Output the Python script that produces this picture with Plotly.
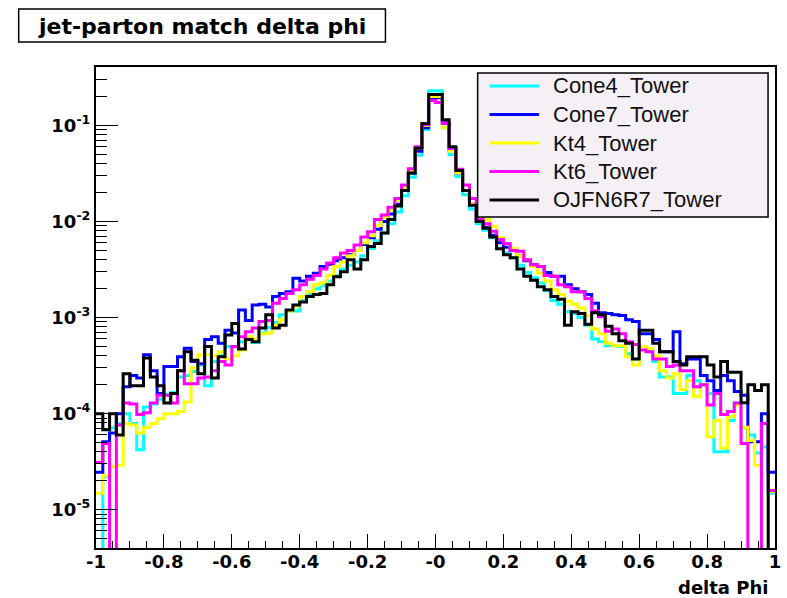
import plotly.graph_objects as go

# ---------------- data ----------------
bin_edges = [round(-1 + 0.02 * i, 2) for i in range(101)]

series_names = ["Cone4_Tower", "Cone7_Tower", "Kt4_Tower", "Kt6_Tower", "OJFN6R7_Tower"]
series_colors = ["#00FFFF", "#0000FF", "#FFFF00", "#FF00FF", "#000000"]

cone4_tower = [
    0, 2.2e-5, 7.1e-5, 7.9e-5, 1.0e-4, 7.9e-5, 4.2e-5, 1.17e-4, 1.26e-4, 1.41e-4,
    1.58e-4, 1.66e-4, 2.4e-4, 2.5e-4, 2.75e-4, 3.2e-4, 1.95e-4, 3.5e-4, 4.0e-4, 5.0e-4,
    5.0e-4, 5.6e-4, 6.0e-4, 5.5e-4, 6.9e-4, 7.9e-4, 8.9e-4, 1.07e-3, 1.17e-3, 1.17e-3,
    1.51e-3, 1.74e-3, 2.0e-3, 2.14e-3, 2.4e-3, 2.75e-3, 3.2e-3, 3.5e-3, 3.8e-3, 4.4e-3,
    5.25e-3, 6.3e-3, 7.6e-3, 9.5e-3, 1.26e-2, 1.86e-2, 2.9e-2, 4.9e-2, 9.1e-2, 0.23,
    0.23, 9.5e-2, 5.0e-2, 2.95e-2, 1.9e-2, 1.35e-2, 9.5e-3, 8.1e-3, 6.8e-3, 5.25e-3,
    4.7e-3, 4.2e-3, 3.5e-3, 2.95e-3, 2.6e-3, 2.3e-3, 1.9e-3, 1.51e-3, 1.38e-3, 1.15e-3,
    1.1e-3, 1.0e-3, 8.3e-4, 6.0e-4, 5.6e-4, 5.1e-4, 5.1e-4, 5.0e-4, 4.2e-4, 3.7e-4,
    5.0e-4, 4.5e-4, 3.5e-4, 2.4e-4, 2.4e-4, 1.62e-4, 1.62e-4, 2.5e-4, 2.2e-4, 2.0e-4,
    1.62e-4, 4.0e-5, 4.0e-5, 8.5e-5, 1.29e-4, 7.1e-5, 6.0e-5, 3.9e-5, 4.5e-5, 1.48e-5,
]

cone7_tower = [
    2.45e-5, 5.1e-5, 6.3e-5, 1.0e-4, 1.9e-4, 2.5e-4, 2.35e-4, 4.1e-4, 2.8e-4, 1.62e-4,
    3.1e-4, 3.1e-4, 3.9e-4, 4.8e-4, 3.5e-4, 3.3e-4, 5.9e-4, 6.3e-4, 5.4e-4, 7.4e-4,
    6.9e-4, 1.2e-3, 9.3e-4, 1.35e-3, 1.38e-3, 1.29e-3, 1.66e-3, 1.78e-3, 1.86e-3, 2.57e-3,
    2.4e-3, 2.7e-3, 2.9e-3, 3.4e-3, 3.6e-3, 3.9e-3, 4.2e-3, 4.5e-3, 5.0e-3, 5.75e-3,
    6.8e-3, 8.3e-3, 1.0e-2, 1.2e-2, 1.51e-2, 2.1e-2, 3.2e-2, 5.4e-2, 9.5e-2, 0.195,
    0.195, 0.107, 5.6e-2, 3.2e-2, 2.1e-2, 1.51e-2, 1.02e-2, 8.7e-3, 7.2e-3, 6.0e-3,
    5.4e-3, 5.0e-3, 4.4e-3, 3.9e-3, 3.55e-3, 3.4e-3, 2.95e-3, 2.7e-3, 2.7e-3, 2.2e-3,
    2.0e-3, 1.86e-3, 1.74e-3, 1.41e-3, 1.12e-3, 1.1e-3, 1.07e-3, 1.05e-3, 9.5e-4, 9.1e-4,
    6.8e-4, 6.8e-4, 5.9e-4, 4.4e-4, 4.4e-4, 7.1e-4, 3.3e-4, 3.7e-4, 3.7e-4, 2.5e-4,
    2.2e-4, 1.74e-4, 2.5e-4, 2.2e-4, 1.7e-4, 1.55e-4, 5.1e-5, 5.1e-5, 1.0e-4, 2.45e-5,
]

kt4_tower = [
    1.48e-5, 2.25e-5, 2.8e-5, 2.9e-5, 7.9e-5, 7.6e-5, 6.3e-5, 7.2e-5, 7.9e-5, 8.9e-5,
    1.0e-4, 1.0e-4, 1.05e-4, 1.32e-4, 3.0e-4, 4.1e-4, 4.1e-4, 4.0e-4, 4.4e-4, 3.7e-4,
    4.0e-4, 4.6e-4, 6.3e-4, 6.0e-4, 6.8e-4, 6.9e-4, 8.3e-4, 9.5e-4, 1.17e-3, 1.32e-3,
    1.66e-3, 1.86e-3, 2.2e-3, 2.3e-3, 2.75e-3, 3.4e-3, 3.8e-3, 4.4e-3, 5.0e-3, 6.0e-3,
    7.1e-3, 9.1e-3, 1.1e-2, 1.32e-2, 1.66e-2, 2.25e-2, 3.4e-2, 5.75e-2, 0.10, 0.20,
    0.20, 9.5e-2, 5.4e-2, 3.2e-2, 2.1e-2, 1.51e-2, 1.1e-2, 1.05e-2, 8.9e-3, 6.8e-3,
    5.9e-3, 5.25e-3, 4.4e-3, 4.0e-3, 3.4e-3, 2.9e-3, 2.4e-3, 1.95e-3, 1.74e-3, 1.48e-3,
    1.38e-3, 1.26e-3, 1.05e-3, 7.6e-4, 6.8e-4, 5.4e-4, 5.1e-4, 5.1e-4, 3.9e-4, 3.2e-4,
    5.0e-4, 4.8e-4, 4.0e-4, 2.8e-4, 2.35e-4, 2.6e-4, 1.78e-4, 2.2e-4, 1.51e-4, 2.0e-4,
    5.75e-5, 8.5e-5, 4.4e-5, 9.3e-5, 1.23e-4, 7.2e-5, 5.25e-5, 2.9e-5, 0, 1.55e-5,
]

kt6_tower = [
    3.1e-5, 4.9e-5, 0, 7.6e-5, 1.29e-4, 1.26e-4, 9.8e-5, 1.02e-4, 1.29e-4, 1.55e-4,
    1.55e-4, 1.29e-4, 2.8e-4, 2.05e-4, 2.05e-4, 2.35e-4, 2.4e-4, 2.8e-4, 3.5e-4, 3.2e-4,
    5.0e-4, 6.3e-4, 7.1e-4, 7.8e-4, 9.1e-4, 9.3e-4, 1.41e-3, 1.58e-3, 1.78e-3, 1.95e-3,
    2.2e-3, 2.5e-3, 2.75e-3, 3.2e-3, 3.7e-3, 4.2e-3, 4.7e-3, 5.0e-3, 5.7e-3, 6.9e-3,
    7.85e-3, 1.05e-2, 1.17e-2, 1.41e-2, 1.74e-2, 2.4e-2, 3.55e-2, 6.0e-2, 0.102, 0.182,
    0.174, 0.105, 5.75e-2, 3.5e-2, 2.4e-2, 1.74e-2, 1.05e-2, 9.5e-3, 7.9e-3, 6.5e-3,
    5.9e-3, 5.0e-3, 4.9e-3, 4.0e-3, 3.55e-3, 3.4e-3, 2.75e-3, 2.7e-3, 2.2e-3, 2.1e-3,
    1.86e-3, 1.86e-3, 1.58e-3, 1.17e-3, 1.02e-3, 7.2e-4, 7.6e-4, 6.8e-4, 5.6e-4, 5.25e-4,
    4.6e-4, 4.4e-4, 3.7e-4, 3.7e-4, 3.1e-4, 3.2e-4, 2.8e-4, 2.8e-4, 1.9e-4, 2.0e-4,
    1.23e-4, 1.62e-4, 9.8e-5, 1.05e-4, 1.29e-4, 4.9e-5, 0, 0, 7.9e-5, 1.58e-5,
]

ojfn6r7_tower = [
    1.0e-4, 6.8e-5, 1.0e-4, 6.0e-5, 2.6e-4, 1.95e-4, 1.95e-4, 3.8e-4, 2.4e-4, 1.95e-4,
    1.29e-4, 1.62e-4, 2.8e-4, 4.4e-4, 3.6e-4, 2.6e-4, 5.0e-4, 2.35e-4, 3.9e-4, 6.6e-4,
    8.7e-4, 4.7e-4, 5.9e-4, 5.6e-4, 7.8e-4, 1.07e-3, 7.8e-4, 8.3e-4, 1.2e-3, 1.35e-3,
    1.45e-3, 1.66e-3, 1.74e-3, 1.78e-3, 2.2e-3, 2.66e-3, 3.0e-3, 4.0e-3, 3.2e-3, 4.0e-3,
    5.5e-3, 5.9e-3, 7.6e-3, 1.05e-2, 1.45e-2, 2.1e-2, 3.2e-2, 5.8e-2, 0.105, 0.21,
    0.21, 0.115, 6.0e-2, 3.4e-2, 2.1e-2, 1.48e-2, 1.0e-2, 8.5e-3, 6.9e-3, 5.2e-3,
    4.5e-3, 4.2e-3, 3.2e-3, 2.7e-3, 2.45e-3, 2.1e-3, 1.95e-3, 1.66e-3, 1.55e-3, 8.3e-4,
    1.15e-3, 1.1e-3, 8.5e-4, 1.12e-3, 1.07e-3, 8.1e-4, 6.8e-4, 5.75e-4, 5.4e-4, 3.7e-4,
    7.4e-4, 7.4e-4, 5.4e-4, 4.4e-4, 4.4e-4, 3.5e-4, 3.2e-4, 3.9e-4, 3.9e-4, 3.9e-4,
    3.2e-4, 2.4e-4, 3.5e-4, 2.7e-4, 2.7e-4, 1.3e-4, 2.0e-4, 1.74e-4, 2.0e-4, 0,
]

series_values = [cone4_tower, cone7_tower, kt4_tower, kt6_tower, ojfn6r7_tower]

x_tick_vals = [-1, -0.8, -0.6, -0.4, -0.2, 0, 0.2, 0.4, 0.6, 0.8, 1]
x_tick_text = ["-1", "-0.8", "-0.6", "-0.4", "-0.2", "-0", "0.2", "0.4", "0.6", "0.8", "1"]
y_tick_vals = [1e-5, 1e-4, 1e-3, 1e-2, 1e-1]
y_tick_text = ["10<sup>-5</sup>", "10<sup>-4</sup>", "10<sup>-3</sup>", "10<sup>-2</sup>", "10<sup>-1</sup>"]

title_text = "jet-parton match delta phi"
x_title = "delta Phi"

# ---------------- layout geometry (pixels) ----------------
W, H = 787, 598
L, R, T, B = 96, 6, 67, 50
PW, PH = W - L - R, H - T - B
FLOOR = 1e-9  # empty bins are drawn down to the frame bottom


def px(x):
    return (x - L) / PW


def py(y):
    return (H - B - y) / PH


fig = go.Figure()
for name, vals, color in zip(series_names, series_values, series_colors):
    yv = [v if v > 0 else FLOOR for v in vals]
    yv = yv + [yv[-1]]
    fig.add_trace(go.Scatter(
        x=bin_edges, y=yv, mode="lines", name=name,
        line=dict(color=color, width=3, shape="hv"),
        hoverinfo="skip", showlegend=False,
    ))

x_minor = [round(-1 + 0.05 * i, 2) for i in range(41)]
x_minor = [v for v in x_minor if v not in x_tick_vals]
y_minor = [m * 10 ** e for e in range(-6, 0) for m in range(2, 10)]

bold18 = dict(family="DejaVu Sans", size=18, color="black", weight="bold")

fig.update_layout(
    width=W, height=H,
    margin=dict(l=L, r=R, t=T, b=B, pad=0),
    paper_bgcolor="white", plot_bgcolor="white",
    showlegend=False,
    xaxis=dict(
        range=[-1, 1], showgrid=False, zeroline=False,
        showline=True, linecolor="black", linewidth=2, mirror=True,
        ticks="inside", ticklen=14, tickwidth=1, tickcolor="black",
        tickvals=x_tick_vals, ticktext=x_tick_text, tickfont=bold18,
        ticklabelstandoff=-4,
        minor=dict(tickvals=x_minor, ticks="inside", ticklen=7, tickwidth=1, tickcolor="black", showgrid=False),
    ),
    yaxis=dict(
        type="log", range=[-5.399, -0.391], showgrid=False, zeroline=False,
        showline=True, linecolor="black", linewidth=2, mirror=True,
        ticks="inside", ticklen=22, tickwidth=1, tickcolor="black",
        tickvals=y_tick_vals, ticktext=y_tick_text,
        tickfont=dict(family="DejaVu Sans", size=18, color="black", weight="bold"),
        minor=dict(tickvals=y_minor, ticks="inside", ticklen=11, tickwidth=1, tickcolor="black", showgrid=False),
    ),
)

shapes = []
annotations = []

# title box
shapes.append(dict(type="rect", xref="paper", yref="paper",
                   x0=px(18), x1=px(388), y0=py(42), y1=py(9),
                   line=dict(color="black", width=1.5), fillcolor="white", layer="above"))
annotations.append(dict(xref="paper", yref="paper", x=px(203), y=py(26),
                        text=title_text, showarrow=False, xanchor="center", yanchor="middle",
                        font=dict(family="DejaVu Sans", size=22, color="black", weight="bold")))

# legend box
shapes.append(dict(type="rect", xref="paper", yref="paper",
                   x0=px(481), x1=px(774), y0=py(217), y1=py(73),
                   line=dict(color="black", width=1.5), fillcolor="#f5f0f5", layer="above"))
entry_y = [86, 114.5, 143, 171.5, 200]
for name, color, ey in zip(series_names, series_colors, entry_y):
    shapes.append(dict(type="line", xref="paper", yref="paper",
                       x0=px(493), x1=px(543), y0=py(ey), y1=py(ey),
                       line=dict(color=color, width=3), layer="above"))
    annotations.append(dict(xref="paper", yref="paper", x=px(555), y=py(ey),
                            text=name, showarrow=False, xanchor="left", yanchor="middle",
                            font=dict(family="Liberation Sans", size=22, color="#111111")))

# x axis title
annotations.append(dict(xref="paper", yref="paper", x=px(776), y=py(587),
                        text=x_title, showarrow=False, xanchor="right", yanchor="middle",
                        font=bold18))

fig.update_layout(shapes=shapes, annotations=annotations)
fig.write_html("out.html",
               config={"displayModeBar": False},
               post_script="document.body.style.margin='0';document.body.style.overflow='hidden';")
